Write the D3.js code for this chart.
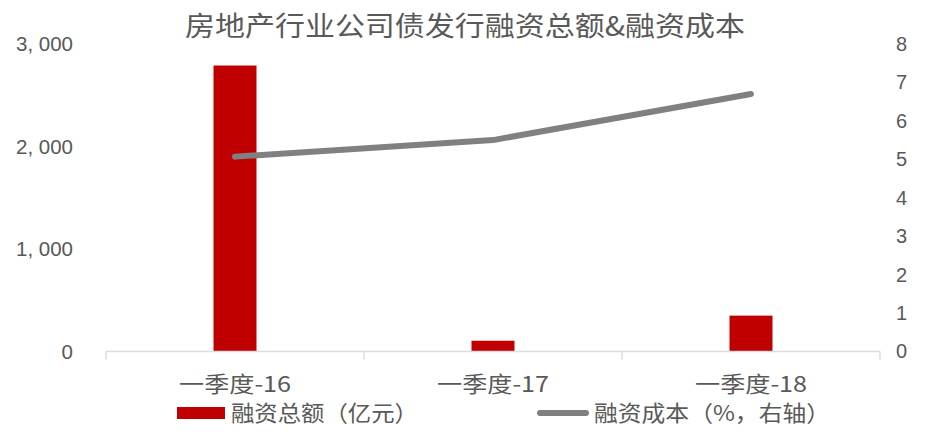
<!DOCTYPE html>
<html><head><meta charset="utf-8">
<script src="https://cdn.jsdelivr.net/npm/d3@7/dist/d3.min.js"></script>
<style>body{margin:0;background:#fff}svg{display:block}</style>
</head><body><svg id="c" width="926" height="438"></svg>
<script>
const categories = ["一季度-16", "一季度-17", "一季度-18"];
const amount = [2790, 105, 350];      // 融资总额（亿元）
const cost = [5.07, 5.50, 6.70];      // 融资成本（%）
const leftTicks = [0, 1000, 2000, 3000];
const rightTicks = [0, 1, 2, 3, 4, 5, 6, 7, 8];
const title = "房地产行业公司债发行融资总额&融资成本";
const legendNames = ["融资总额（亿元）", "融资成本（%，右轴）"];

const svg = d3.select("#c");
const cjk = "'Noto Sans CJK SC', sans-serif";
const latin = "'Liberation Sans', Arial, sans-serif";
const txt = "#595959";

const x = d3.scaleBand().domain(categories).range([106, 880]);
const yL = d3.scaleLinear().domain([0, 3000]).range([351.5, 44]);
const yR = d3.scaleLinear().domain([0, 8]).range([351.5, 44]);

// title
svg.append("text").attr("x", 465).attr("y", 36).attr("text-anchor", "middle")
  .attr("font-family", cjk).attr("font-size", 27).attr("font-weight", 400)
  .attr("fill", txt).attr("textLength", 560).attr("lengthAdjust", "spacingAndGlyphs")
  .text(title);

// bars
const bw = 43;
svg.selectAll("rect.bar").data(amount).join("rect").attr("class", "bar")
  .attr("x", (d, i) => x(categories[i]) + x.bandwidth() / 2 - bw / 2)
  .attr("width", bw)
  .attr("y", d => yL(d))
  .attr("height", d => yL(0) - yL(d))
  .attr("fill", "#C00000");

// x axis
const xAxis = d3.axisBottom(x).tickSize(0).tickFormat("");
const gx = svg.append("g").attr("transform", `translate(0,${yL(0)})`).call(xAxis);
gx.select(".domain").attr("stroke", "#D9DCE1").attr("stroke-width", 1.5).attr("d", "M106,0H880");
const bounds = [106].concat(categories.map(c => x(c) + x.bandwidth()));
gx.selectAll("line.bnd").data(bounds).join("line").attr("class", "bnd")
  .attr("x1", d => d).attr("x2", d => d).attr("y1", 0).attr("y2", 8)
  .attr("stroke", "#D9DCE1").attr("stroke-width", 1.5);
gx.selectAll("text.cat").data(categories).join("text").attr("class", "cat")
  .attr("x", d => x(d) + x.bandwidth() / 2).attr("y", 40)
  .attr("text-anchor", "middle").attr("font-family", cjk).attr("font-size", 22)
  .attr("fill", txt).attr("textLength", 112).attr("lengthAdjust", "spacingAndGlyphs")
  .text(d => d);

// left axis
const gl = svg.append("g").attr("transform", "translate(73,0)")
  .call(d3.axisLeft(yL).tickValues(leftTicks).tickSize(0).tickPadding(0).tickFormat(d3.format(",")));
gl.select(".domain").remove();
gl.selectAll("text").attr("font-family", latin).attr("font-size", 20.5).attr("fill", txt)
  .text(d => d3.format(",")(d).replace(",", ", "));

// right axis
const gr = svg.append("g").attr("transform", "translate(896,0)")
  .call(d3.axisRight(yR).tickValues(rightTicks).tickSize(0).tickPadding(0));
gr.select(".domain").remove();
gr.selectAll("text").attr("font-family", latin).attr("font-size", 20).attr("fill", txt);

// line
const line = d3.line().x((d, i) => x(categories[i]) + x.bandwidth() / 2).y(d => yR(d));
svg.append("path").datum(cost).attr("d", line).attr("fill", "none")
  .attr("stroke", "#808080").attr("stroke-width", 6).attr("stroke-linecap", "round")
  .attr("stroke-linejoin", "round");

// legend
const lg = svg.append("g");
lg.append("rect").attr("x", 177).attr("y", 407).attr("width", 48).attr("height", 12).attr("fill", "#C00000");
lg.append("text").attr("x", 231).attr("y", 421).attr("font-family", cjk).attr("font-size", 22)
  .attr("fill", txt).attr("textLength", 187).attr("lengthAdjust", "spacingAndGlyphs").text(legendNames[0]);
lg.append("line").attr("x1", 540).attr("x2", 586).attr("y1", 413).attr("y2", 413)
  .attr("stroke", "#808080").attr("stroke-width", 6).attr("stroke-linecap", "round");
lg.append("text").attr("x", 594).attr("y", 421).attr("font-family", cjk).attr("font-size", 22)
  .attr("fill", txt).attr("textLength", 236).attr("lengthAdjust", "spacingAndGlyphs").text(legendNames[1]);
</script></body></html>
